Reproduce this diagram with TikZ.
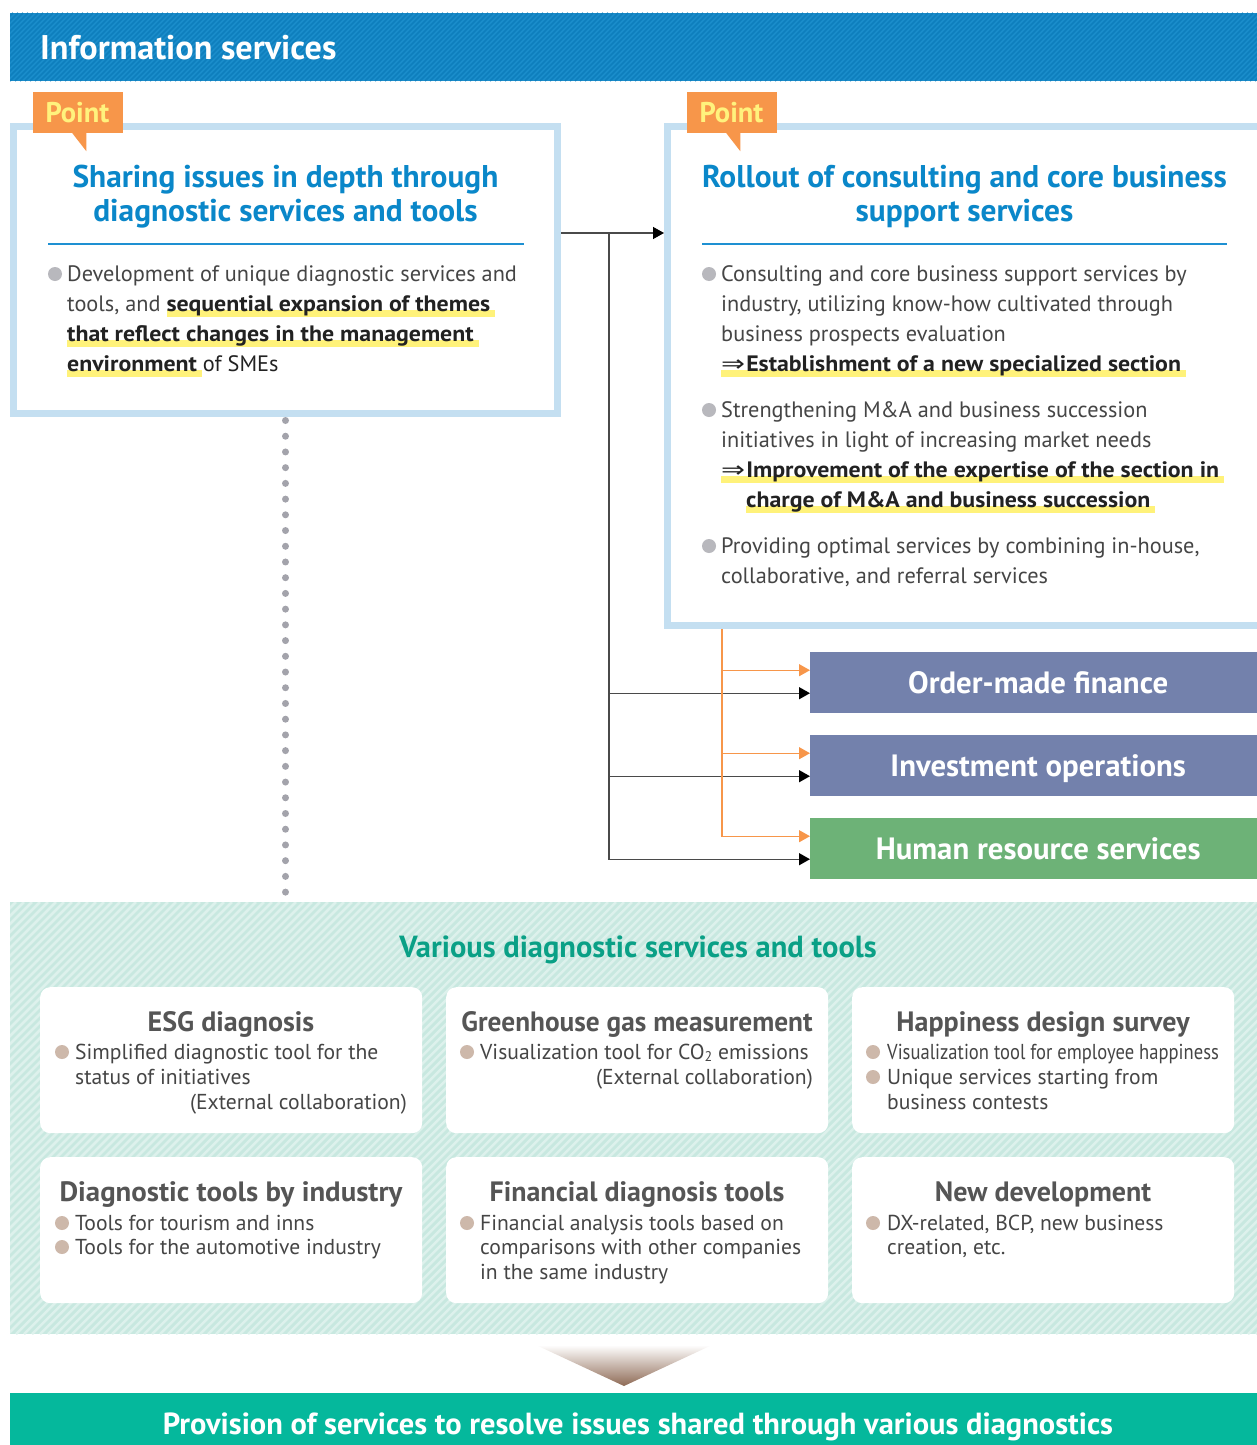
\documentclass[tikz,border=0pt]{standalone}
\usepackage{fontspec}
\setmainfont{PT Sans}
\newfontfamily\symfont{DejaVu Sans}
\usepackage{graphicx}
\usetikzlibrary{arrows.meta}

\definecolor{hdrblue}{HTML}{1B8DCB}
\definecolor{hdrstripe}{HTML}{0E7EBD}
\definecolor{ptorange}{HTML}{F7964A}
\definecolor{ptyellow}{HTML}{FFF27D}
\definecolor{boxblue}{HTML}{C4DFF1}
\definecolor{titleblue}{HTML}{0A87C9}
\definecolor{ruleblue}{HTML}{1E90D2}
\definecolor{txtdark}{HTML}{454545}
\definecolor{bolddark}{HTML}{222222}
\definecolor{bulgray}{HTML}{B8B8BD}
\definecolor{hlyellow}{HTML}{FFF27A}
\definecolor{svcblue}{HTML}{7381AC}
\definecolor{svcgreen}{HTML}{6DB277}
\definecolor{linegray}{HTML}{4A4A4A}
\definecolor{dotgray}{HTML}{A3A3AB}
\definecolor{mintbase}{HTML}{C8E8E0}
\definecolor{mintstripe}{HTML}{DDF1EC}
\definecolor{mintteal}{HTML}{0AA086}
\definecolor{toolgray}{HTML}{555555}
\definecolor{beige}{HTML}{CDB8AA}
\definecolor{tribrown}{HTML}{8E6A55}
\definecolor{footteal}{HTML}{05B89C}

% yellow marker under bold words
\newcommand\hlt[1]{\setbox0=\hbox{\color{bolddark}\scalebox{1.07}[1]{\bfseries #1}}%
  \rlap{\color{hlyellow}\rule[-5pt]{\dimexpr\wd0+5pt\relax}{6.5pt}}\box0\relax}
\newcommand\imp{{\mdseries\symfont\scalebox{1.2}[1]{⇒}}\hspace{1pt}}

\tikzset{
  txt/.style={anchor=base west, inner sep=0pt, text=txtdark, font=\fontsize{22.3}{26}\selectfont},
  tooltxt/.style={txt, font=\fontsize{21.6}{25}\selectfont},
  title/.style={anchor=base, inner sep=0pt, text=titleblue, font=\bfseries\fontsize{31.4}{36}\selectfont},
  tooltitle/.style={anchor=base, inner sep=0pt, text=toolgray, font=\bfseries\fontsize{28}{32}\selectfont},
  panel/.style={draw=boxblue, line width=7pt, fill=white, inner sep=0pt},
  pointtag/.style={fill=ptorange, text=ptyellow, font=\bfseries\fontsize{28.5}{32}\selectfont,
    minimum width=90pt, minimum height=41pt, inner sep=0pt, text height=19.5pt, text depth=0pt},
  svc/.style={anchor=north west, text=white, font=\bfseries\fontsize{30.8}{34}\selectfont,
    minimum width=456pt, minimum height=61pt, inner sep=0pt, text height=21.5pt, text depth=0pt},
  toolbox/.style={anchor=north west, fill=white, rounded corners=10pt,
    minimum width=382pt, minimum height=146pt, inner sep=0pt},
  blkarrow/.style={draw=linegray, line width=1.4pt, -{Triangle[length=11pt,width=12pt,color=black]}},
  orgarrow/.style={draw=ptorange, line width=1.2pt, -{Triangle[length=11pt,width=12pt]}},
  rulestyle/.style={draw=ruleblue, line width=2pt}
}

\begin{document}
\begin{tikzpicture}[x=1pt,y=-1pt]
    \useasboundingbox (0,0) rectangle (1257,1445);

    % Header bar
    \node (hdrbar) [fill=hdrblue, minimum width=1256pt, minimum height=68pt, inner sep=0pt, anchor=north west] at (10,13) {};
    \begin{scope}
        \clip (hdrbar.south west) rectangle (hdrbar.north east);
        \foreach \i in {-70,-65,...,1270} \draw[hdrstripe, line width=1.6pt] (\i,81) -- ++(68,-68);
    \end{scope}
    \node (hdr) [anchor=base west, inner sep=0pt, text=white, font=\bfseries\fontsize{34.2}{38}\selectfont] at (40,59.5) {Information services};

    % Panels
    \node (lbox) [panel, minimum width=544pt, minimum height=287pt] at (285.5,270) {};
    \node (rbox) [panel, minimum width=594pt, minimum height=499pt] at (964.5,376) {};

    % Point tags
    \node (ptl) [pointtag] at (77.5,112.5) {Point};
    \node (ptr) [pointtag] at (731.5,112.5) {Point};
    \fill[ptorange] ([xshift=40pt]ptl.south west) -- ([xshift=54pt]ptl.south west) -- ([xshift=54pt,yshift=-18pt]ptl.south west) -- cycle;
    \fill[ptorange] ([xshift=40pt]ptr.south west) -- ([xshift=54pt]ptr.south west) -- ([xshift=54pt,yshift=-18pt]ptr.south west) -- cycle;

    % Left panel
    \node (lt1) [title] at (285.5,187) {Sharing issues in depth through};
    \node (lt2) [title] at (285.5,221) {diagnostic services and tools};
    \draw[rulestyle] (48,244) -- (524,244);
    \fill[bulgray] (55,274) circle (7pt);
    \node (l1) [txt] at (67,281.5) {Development of unique diagnostic services and};
    \node (l2) [txt] at (67,311.5) {tools, and \hlt{sequential expansion of themes}};
    \node (l3) [txt] at (67,341.5) {\hlt{that reflect changes in the management}};
    \node (l4) [txt] at (67,371.5) {\hlt{environment} of SMEs};

    % Right panel
    \node (rt1) [title] at (964.5,187) {Rollout of consulting and core business};
    \node (rt2) [title] at (964.5,221) {support services};
    \draw[rulestyle] (702,244) -- (1227,244);
    \fill[bulgray] (709,274) circle (7pt);
    \fill[bulgray] (709,410) circle (7pt);
    \fill[bulgray] (709,546) circle (7pt);
    \node (r1) [txt] at (721,281.5) {Consulting and core business support services by};
    \node (r2) [txt] at (721,311.5) {industry, utilizing know-how cultivated through};
    \node (r3) [txt] at (721,341.5) {business prospects evaluation};
    \node (r4) [txt] at (721,371.5) {\hlt{\imp Establishment of a new specialized section}};
    \node (r5) [txt] at (721,417.5) {Strengthening M\&A and business succession};
    \node (r6) [txt] at (721,447.5) {initiatives in light of increasing market needs};
    \node (r7) [txt] at (721,477.5) {\hlt{\imp Improvement of the expertise of the section in}};
    \node (r8) [txt] at (746,507.5) {\hlt{charge of M\&A and business succession}};
    \node (r9) [txt] at (721,553.5) {Providing optimal services by combining in-house,};
    \node (r10) [txt] at (721,583.5) {collaborative, and referral services};

    % Service boxes
    \node (order) [svc, fill=svcblue] at (810,652) {Order-made finance};
    \node (invest) [svc, fill=svcblue] at (810,735) {Investment operations};
    \node (human) [svc, fill=svcgreen] at (810,818) {Human resource services};

    % Connectors
    \coordinate (jtop) at (609,233);
    \coordinate (otop) at (722,629);
    \draw[blkarrow] (lbox.east |- jtop) -- (rbox.west |- jtop);
    \draw[blkarrow] (jtop) |- ([yshift=-10.5pt]order.west);
    \draw[blkarrow] (jtop) |- ([yshift=-10.5pt]invest.west);
    \draw[blkarrow] (jtop) |- ([yshift=-10.5pt]human.west);
    \draw[orgarrow] (otop) |- ([yshift=12.5pt]order.west);
    \draw[orgarrow] (otop) |- ([yshift=12.5pt]invest.west);
    \draw[orgarrow] (otop) |- ([yshift=12.5pt]human.west);

    % Diagnostics area
    \node (mint) [fill=mintbase, minimum width=1256pt, minimum height=432pt, inner sep=0pt, anchor=north west] at (10,902) {};
    \begin{scope}
        \clip (mint.south west) rectangle (mint.north east);
        \foreach \i in {-440,-432,...,1270} \draw[mintstripe, line width=2.5pt] (\i,1334) -- ++(432,-432);
    \end{scope}
    \draw[dotgray, line width=7pt, line cap=round, dash pattern=on 0pt off 15.72pt] ([yshift=-3.5pt]lbox.south) -- (lbox.south |- mint.north);
    \node (mtitle) [anchor=base, inner sep=0pt, text=mintteal, font=\bfseries\fontsize{30.5}{34}\selectfont] at (638,957.5) {Various diagnostic services and tools};

    % Tool boxes
    \node (esg) [toolbox] at (40,987) {};
    \node (ghg) [toolbox] at (446,987) {};
    \node (happy) [toolbox] at (852,987) {};
    \node (industry) [toolbox] at (40,1157) {};
    \node (fin) [toolbox] at (446,1157) {};
    \node (newdev) [toolbox] at (852,1157) {};

    \node (esgt) [tooltitle] at (231,1031) {ESG diagnosis};
    \node (ghgt) [tooltitle] at (637,1031) {\scalebox{0.975}[1]{Greenhouse gas measurement}};
    \node (happyt) [tooltitle] at (1043,1031) {Happiness design survey};
    \node (industryt) [tooltitle] at (231,1201) {\scalebox{1.03}[1]{Diagnostic tools by industry}};
    \node (fint) [tooltitle] at (637,1201) {Financial diagnosis tools};
    \node (newdevt) [tooltitle] at (1043,1201) {New development};

    \fill[beige] (62,1052) circle (7pt);
    \fill[beige] (467,1052) circle (7pt);
    \fill[beige] (873,1052) circle (7pt);
    \fill[beige] (873,1077) circle (7pt);
    \fill[beige] (62,1223) circle (7pt);
    \fill[beige] (62,1247) circle (7pt);
    \fill[beige] (467,1223) circle (7pt);
    \fill[beige] (873,1223) circle (7pt);

    \node (esg1) [tooltxt] at (75,1059.5) {Simplified diagnostic tool for the};
    \node (esg2) [tooltxt] at (75,1084.5) {status of initiatives};
    \node (esg3) [tooltxt, anchor=base east] at (407,1109.5) {(External collaboration)};
    \node (ghg1) [tooltxt] at (480,1059.5) {Visualization tool for CO\raisebox{-2pt}{\fontsize{14}{14}\selectfont 2} emissions};
    \node (ghg2) [tooltxt, anchor=base east] at (813,1084.5) {(External collaboration)};
    \node (happy1) [tooltxt] at (887,1059.5) {\scalebox{0.86}[1]{Visualization tool for employee happiness}};
    \node (happy2) [tooltxt] at (887,1084.5) {Unique services starting from};
    \node (happy3) [tooltxt] at (887,1109.5) {business contests};
    \node (ind1) [tooltxt] at (75,1230.5) {Tools for tourism and inns};
    \node (ind2) [tooltxt] at (75,1254.5) {Tools for the automotive industry};
    \node (fin1) [tooltxt] at (480,1230.5) {Financial analysis tools based on};
    \node (fin2) [tooltxt] at (480,1254.5) {comparisons with other companies};
    \node (fin3) [tooltxt] at (480,1279.5) {in the same industry};
    \node (new1) [tooltxt] at (887,1230.5) {DX-related, BCP, new business};
    \node (new2) [tooltxt] at (887,1254.5) {creation, etc.};

    % Result arrow and footer
    \shade[top color=white, bottom color=tribrown] (536,1345) -- (712,1345) -- (624,1386) -- cycle;
    \node (foot) [fill=footteal, minimum width=1256pt, minimum height=52pt, inner sep=0pt, anchor=north west] at (10,1393) {};
    \node (foottxt) [anchor=base, inner sep=0pt, text=white, font=\bfseries\fontsize{30.5}{34}\selectfont] at (638,1434) {Provision of services to resolve issues shared through various diagnostics};

\end{tikzpicture}
\end{document}
